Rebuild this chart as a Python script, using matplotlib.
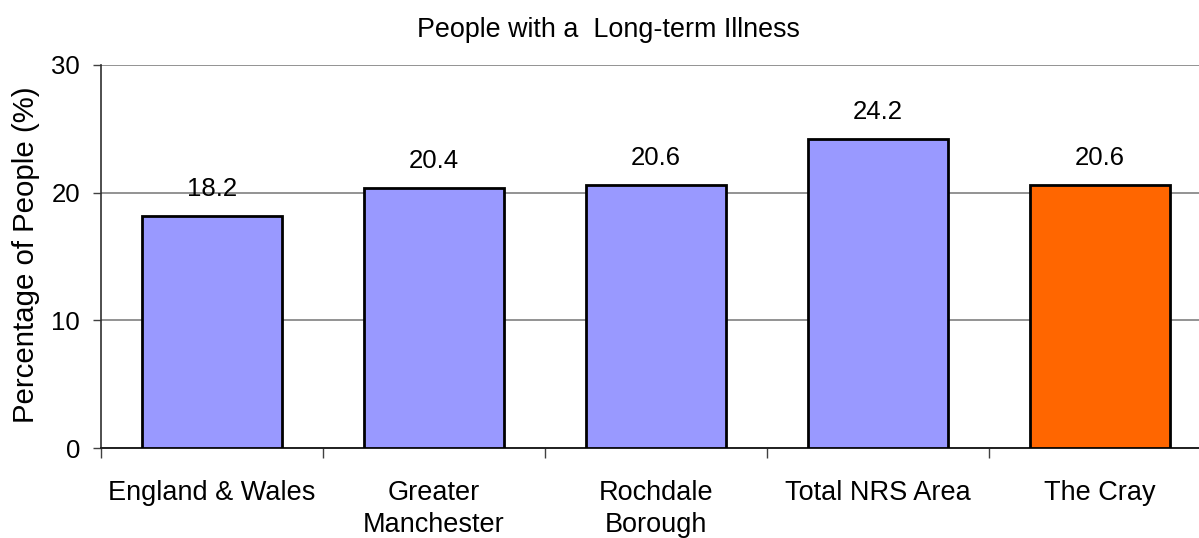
import matplotlib
matplotlib.use("Agg")
import matplotlib.pyplot as plt
from matplotlib.ticker import FixedLocator

categories = ["England & Wales", "Greater\nManchester", "Rochdale\nBorough", "Total NRS Area", "The Cray"]
values = [18.2, 20.4, 20.6, 24.2, 20.6]
bar_colors = ["#9999FF", "#9999FF", "#9999FF", "#9999FF", "#FF6600"]
yticks = [0, 10, 20, 30]
title = "People with a  Long-term Illness"
ylabel = "Percentage of People (%)"

plt.rcParams['font.family'] = ['Liberation Sans', 'DejaVu Sans']

W, H = 1199, 538
fig = plt.figure(figsize=(W / 100, H / 100), dpi=100)
left, right, bottom, top = 101, 1211, 448, 65
ax = fig.add_axes([left / W, 1 - bottom / H, (right - left) / W, (bottom - top) / H])

x = list(range(len(categories)))
bars = ax.bar(x, values, width=0.63, color=bar_colors, edgecolor="black", linewidth=2.0, zorder=3)

ax.set_xlim(-0.5, len(categories) - 0.5)
ax.set_ylim(0, 30)
ax.set_yticks(yticks)
ax.set_xticks(x)
ax.set_xticklabels(categories, fontsize=19.5, linespacing=1.3)
ax.xaxis.set_minor_locator(FixedLocator([i - 0.5 for i in range(len(categories) + 1)]))
ax.tick_params(axis="x", which="major", length=0, pad=23)
ax.tick_params(axis="x", which="minor", length=7, width=1, color="#404040", direction="out")
ax.tick_params(axis="y", which="major", length=6, width=1, color="#404040", direction="out",
               labelsize=18.5, pad=9)

ax.yaxis.grid(True, color="#808080", linewidth=1.2, zorder=0)
ax.set_axisbelow(True)
for s in ["top", "right"]:
    ax.spines[s].set_visible(False)
ax.spines["left"].set_color("#303030")
ax.spines["bottom"].set_color("#202020")
ax.spines["left"].set_linewidth(1.2)
ax.spines["bottom"].set_linewidth(1.4)

for xi, v in zip(x, values):
    ax.annotate(f"{v:.1f}", xy=(xi, v), xytext=(0, 14.4), textcoords="offset points",
                ha="center", va="baseline", fontsize=18.5, zorder=4)

fig.text(608.5 / W, 1 - 37 / H, title, ha="center", va="baseline", fontsize=19.4)
fig.text(26 / W, 1 - 254.5 / H, ylabel, ha="center", va="center", rotation=90, fontsize=21.2)

fig.savefig("out.png", dpi=100)
